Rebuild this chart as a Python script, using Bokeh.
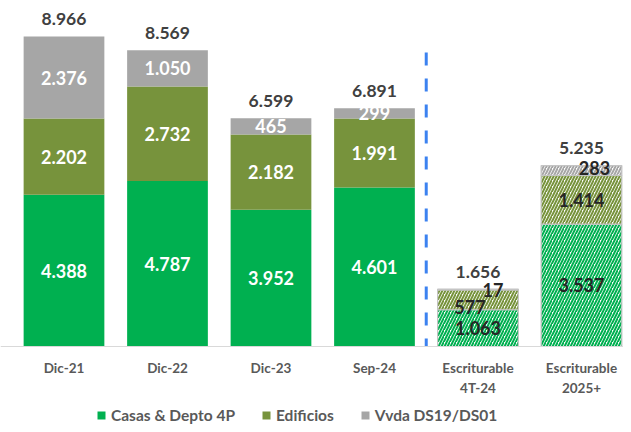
from bokeh.plotting import figure
from bokeh.models import ColumnDataSource, Range1d, FixedTicker, Legend, LegendItem
from bokeh.core.properties import value
from bokeh.embed import file_html
from bokeh.resources import INLINE

# ---- data ----
categories = ["Dic-21", "Dic-22", "Dic-23", "Sep-24", "Escriturable\n4T-24", "Escriturable\n2025+"]
casas = [4388, 4787, 3952, 4601, 1063, 3537]
edificios = [2202, 2732, 2182, 1991, 577, 1414]
vvda = [2376, 1050, 465, 299, 17, 283]
totals = [8966, 8569, 6599, 6891, 1656, 5235]
series_names = ["Casas & Depto 4P", "Edificios", "Vvda DS19/DS01"]
n_actual = 4  # first four bars are actual, last two are projected (hatched)
divider_top = 8500

GREEN, OLIVE, GREY = "#00B050", "#77933C", "#A6A6A6"
FONT = "Lato"

def fmt(v):
    return f"{v:,}".replace(",", ".")

xs = list(range(len(categories)))
cols = ["casas", "edif", "vvda"]
data = {"casas": casas, "edif": edificios, "vvda": vvda}

src_actual = ColumnDataSource(dict(x=xs[:n_actual], **{c: data[c][:n_actual] for c in cols}))
src_proj = ColumnDataSource(dict(x=xs[n_actual:], **{c: data[c][n_actual:] for c in cols}))

p = figure(width=623, height=424, x_range=Range1d(-0.6135, 5.406), y_range=Range1d(-2256, 10006),
           output_backend="svg", toolbar_location=None, y_axis_location=None,
           min_border_left=0, min_border_right=0, min_border_top=0, min_border_bottom=0)
p.outline_line_color = None
p.xgrid.visible = False
p.ygrid.visible = False
p.background_fill_color = "white"
p.border_fill_color = "white"

BW = 0.78
solid = p.vbar_stack(cols, x="x", width=BW, source=src_actual,
                     color=[GREEN, OLIVE, GREY], line_color=None)
p.vbar_stack(cols, x="x", width=BW, source=src_proj,
             fill_color="white", hatch_color=[GREEN, OLIVE, GREY], hatch_pattern="/",
             hatch_scale=6, hatch_weight=2, line_color="#C4C4C4", line_width=1.2)

# divider between actual and projected
p.segment(x0=[n_actual - 0.5], y0=[divider_top], x1=[n_actual - 0.5], y1=[0],
          line_color="#3C82F0", line_width=3, line_dash="13 13")

# segment labels
nudges = {(4, "edif"): (-8, 7), (4, "vvda"): (15, 1), (5, "vvda"): (13, -2)}
lx, ly, lt, lc, dx, dy = [], [], [], [], [], []
for i in xs:
    base = 0
    for c in cols:
        v = data[c][i]
        lx.append(i)
        ly.append(base + v / 2)
        lt.append(fmt(v))
        lc.append("white" if i < n_actual else "#262626")
        ox, oy = nudges.get((i, c), (0, 0))
        dx.append(ox)
        dy.append(oy)
        base += v
lab_src = ColumnDataSource(dict(x=lx, y=ly, text=lt, color=lc, dx=dx, dy=dy))
p.text(x="x", y="y", text="text", source=lab_src, text_color="color",
       text_font=value(FONT), text_font_style="bold", text_font_size="18px",
       text_align="center", text_baseline="middle", x_offset="dx", y_offset="dy")

tot_src = ColumnDataSource(dict(x=xs, y=totals, text=[fmt(t) for t in totals]))
p.text(x="x", y="y", text="text", source=tot_src, text_color="#404040",
       text_font=value(FONT), text_font_style="bold", text_font_size="17.5px",
       text_align="center", text_baseline="middle", y_offset=-17)

# x axis locked at y = 0
ax = p.xaxis[0]
ax.fixed_location = 0
ax.ticker = FixedTicker(ticks=xs)
ax.major_label_overrides = {i: c for i, c in zip(xs, categories)}
ax.axis_line_color = "#D9D9D9"
ax.axis_line_width = 1
ax.major_tick_line_color = None
ax.minor_tick_line_color = None
ax.major_label_standoff = 8
ax.major_label_text_font = FONT
ax.major_label_text_font_style = "bold"
ax.major_label_text_font_size = "13.5px"
ax.major_label_text_color = "#595959"

legend = Legend(items=[LegendItem(label=nm, renderers=[r]) for nm, r in zip(series_names, solid)],
                location=(96, 0), orientation="horizontal",
                glyph_width=10, glyph_height=10, label_standoff=5, spacing=26, padding=2,
                label_text_font=FONT, label_text_font_style="bold", label_text_font_size="15.5px",
                label_text_color="#595959", border_line_color=None, background_fill_alpha=0)
p.add_layout(legend, "center")

open("out.html", "w").write(file_html(p, INLINE))
